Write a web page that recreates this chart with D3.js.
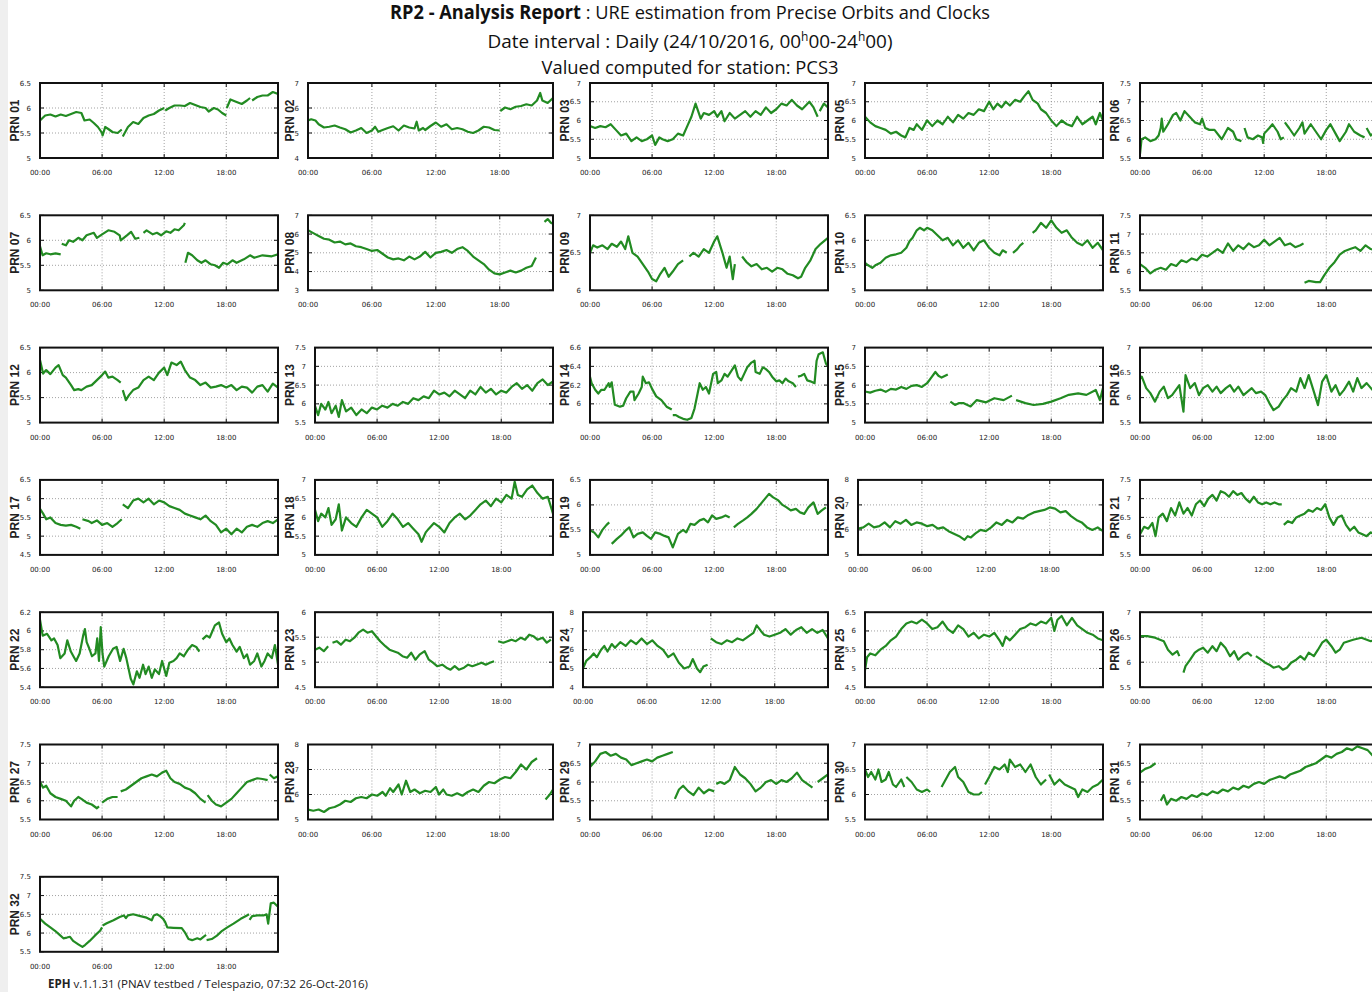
<!DOCTYPE html>
<html>
<head>
<meta charset="utf-8">
<title>RP2 - URE estimation from Precise Orbits and Clocks</title>
<script src="https://cdn.jsdelivr.net/npm/d3@7"></script>
<style>
body { margin: 0; background: #ffffff; overflow: hidden; }
svg { display: block; }
.title { font-family: "Open Sans", "Noto Sans", sans-serif; font-size: 19px; fill: #111; }
.tick-label { font-family: "DejaVu Sans", sans-serif; font-size: 7px; fill: #222; }
.prn-label { font-family: "Liberation Sans", Arial, sans-serif; font-size: 12px; font-weight: bold; fill: #222; }
.grid { stroke: #8a8a8a; stroke-width: 0.8; stroke-dasharray: 1,2; }
.frame { fill: none; stroke: #111; stroke-width: 2; }
.series { fill: none; stroke: #228b22; stroke-width: 2.2; stroke-linejoin: round; }
.footer { font-family: "Open Sans", "Noto Sans", sans-serif; font-size: 11.5px; fill: #222; }
</style>
</head>
<body>
<svg width="1372" height="992"></svg>
<script>
// ---- texts ----
var titleBold = "RP2 - Analysis Report";
var titleRest = " : URE estimation from Precise Orbits and Clocks";
var dateParts = ["Date interval : Daily (24/10/2016, 00", "h", "00-24", "h", "00)"];
var stationLine = "Valued computed for station: PCS3";
var footerBold = "EPH";
var footerRest = " v.1.1.31 (PNAV testbed / Telespazio, 07:32 26-Oct-2016)";

// ---- x axis (hours of day) ----
var hourDomain = [0, 23];
var hourTicks = [0, 6, 12, 18];
var hourLabels = ["00:00", "06:00", "12:00", "18:00"];

// ---- panels ----
var prnNames = ["PRN 01","PRN 02","PRN 03","PRN 05","PRN 06",
                "PRN 07","PRN 08","PRN 09","PRN 10","PRN 11",
                "PRN 12","PRN 13","PRN 14","PRN 15","PRN 16",
                "PRN 17","PRN 18","PRN 19","PRN 20","PRN 21",
                "PRN 22","PRN 23","PRN 24","PRN 25","PRN 26",
                "PRN 27","PRN 28","PRN 29","PRN 30","PRN 31",
                "PRN 32"];

var yTickSets = [
  [5,5.5,6,6.5],[4,5,6,7],[5,5.5,6,6.5,7],[5,5.5,6,6.5,7],[5.5,6,6.5,7,7.5],
  [5,5.5,6,6.5],[3,4,5,6,7],[6,6.5,7],[5,5.5,6,6.5],[5.5,6,6.5,7,7.5],
  [5,5.5,6,6.5],[5.5,6,6.5,7,7.5],[6,6.2,6.4,6.6],[5,5.5,6,6.5,7],[5.5,6,6.5,7],
  [4.5,5,5.5,6,6.5],[5,5.5,6,6.5,7],[5,5.5,6,6.5],[5,6,7,8],[5.5,6,6.5,7,7.5],
  [5.4,5.6,5.8,6,6.2],[4.5,5,5.5,6],[4,5,6,7,8],[4.5,5,5.5,6,6.5],[5.5,6,6.5,7],
  [5.5,6,6.5,7,7.5],[5,6,7,8],[5,5.5,6,6.5,7],[5.5,6,6.5,7],[5,5.5,6,6.5,7],
  [5.5,6,6.5,7,7.5]
];

var yDomains = [
  [5,6.5],[4,7],[5,7],[5,7],[5.5,7.5],
  [5,6.5],[3,7],[6,7],[5,6.5],[5.5,7.5],
  [5,6.5],[5.5,7.5],[5.8,6.6],[5,7],[5.5,7],
  [4.5,6.5],[5,7],[5,6.5],[5,8],[5.5,7.5],
  [5.4,6.2],[4.5,6],[4,8],[4.5,6.5],[5.5,7],
  [5.5,7.5],[5,8],[5,7],[5.5,7],[5,7],
  [5.5,7.5]
];

// ---- series: [hour, URE] pairs, null = data gap ----
var prn01 = [[0,5.75],[0.5,5.85],[1,5.87],[1.5,5.83],[2,5.87],[2.5,5.84],[3,5.88],[3.5,5.92],[4,5.9],[4.3,5.75],[4.8,5.77],[5.2,5.7],[5.6,5.62],[6,5.5],[6.05,5.45],[6.3,5.62],[6.6,5.58],[7,5.52],[7.5,5.5],[7.9,5.57],null,[8,5.43],[8.5,5.62],[9,5.72],[9.5,5.68],[10,5.8],[10.5,5.85],[11,5.88],[11.5,5.95],[12,6.0],null,[12.1,5.95],[12.5,6.0],[13,6.05],[13.5,6.05],[14,6.04],[14.5,6.1],[15,6.06],[15.5,6.02],[16,6.0],[16.3,5.93],[16.8,6.0],[17.2,5.97],[17.6,5.9],[18,5.85],null,[18.05,6.0],[18.4,6.17],[19,6.12],[19.5,6.08],[20,6.15],[20.3,6.2],null,[20.5,6.15],[21,6.22],[21.5,6.25],[22,6.25],[22.5,6.32],[23,6.28]];
var prn02 = [[0,5.5],[0.3,5.55],[0.7,5.5],[1,5.35],[1.5,5.22],[2,5.25],[2.5,5.3],[3,5.22],[3.5,5.15],[4,5.02],[4.5,5.1],[5,5.2],[5.5,5.0],[6,5.1],[6.3,5.25],[6.6,5.05],[7,5.12],[7.5,5.2],[8,5.27],[8.5,5.1],[9,5.3],[9.5,5.22],[10,5.18],[10.2,5.45],[10.4,5.1],[10.8,5.2],[11,5.12],[11.5,5.28],[12,5.42],[12.5,5.25],[13,5.35],[13.5,5.15],[14,5.2],[14.5,5.15],[15,5.05],[15.5,5.0],[16,5.1],[16.5,5.25],[17,5.22],[17.5,5.12],[18,5.1],null,[18.05,5.88],[18.5,6.02],[19,5.95],[19.5,6.05],[20,6.08],[20.5,6.15],[21,6.1],[21.5,6.3],[21.8,6.6],[22,6.3],[22.5,6.2],[23,6.4]];
var prn03 = [[0,5.85],[0.5,5.8],[1,5.85],[1.5,5.82],[2,5.9],[2.5,5.75],[3,5.6],[3.5,5.65],[4,5.45],[4.5,5.55],[5,5.45],[5.5,5.5],[6,5.6],[6.3,5.35],[6.7,5.55],[7,5.5],[7.5,5.45],[8,5.5],[8.5,5.65],[9,5.6],[9.4,5.85],[9.8,6.1],[10.2,6.45],[10.7,6.05],[11,6.2],[11.5,6.15],[12,6.25],[12.3,6.1],[12.7,6.25],[13,5.98],[13.5,6.2],[14,6.05],[14.5,6.15],[15,6.25],[15.5,6.1],[16,6.25],[16.5,6.15],[17,6.35],[17.5,6.2],[18,6.3],[18.5,6.45],[19,6.4],[19.5,6.55],[20,6.4],[20.5,6.3],[21.2,6.5],[21.6,6.35],[22,6.1],null,[22.2,6.25],[22.6,6.45],[23,6.35]];
var prn05 = [[0,6.1],[0.5,5.95],[1,5.85],[1.5,5.8],[2,5.75],[2.5,5.65],[3,5.7],[3.5,5.6],[3.9,5.55],[4.3,5.8],[4.7,5.75],[5,5.9],[5.5,5.75],[6,6.0],[6.5,5.85],[7,6.0],[7.5,5.9],[8,6.1],[8.5,5.95],[9,6.15],[9.5,6.05],[10,6.2],[10.5,6.15],[11,6.3],[11.5,6.25],[12,6.5],[12.4,6.3],[12.8,6.45],[13.2,6.35],[13.6,6.5],[14,6.4],[14.5,6.55],[15,6.5],[15.4,6.65],[15.8,6.78],[16.2,6.55],[16.7,6.45],[17,6.3],[17.5,6.2],[18,6.0],[18.5,5.85],[19,6.0],[19.5,5.9],[20,5.85],[20.5,6.1],[21,5.9],[21.5,6.0],[22,6.1],[22.3,5.9],[22.7,6.2],[23,6.0]];
var prn06 = [[0,5.6],[0.15,6.0],[0.5,6.05],[1,5.95],[1.5,6.0],[1.8,6.1],[2.0,6.3],[2.1,6.55],[2.25,6.2],[2.7,6.4],[3.2,6.65],[3.5,6.7],[3.9,6.5],[4.3,6.75],[4.8,6.6],[5.3,6.45],[5.8,6.4],[6.0,6.55],[6.3,6.3],[6.7,6.25],[7.2,6.25],[7.9,6.0],[8.5,6.3],[9,6.2],[9.3,6.0],[9.8,5.95],null,[10.1,6.3],[10.4,6.05],[10.9,6.0],[11.4,6.1],[11.8,6.05],[11.9,5.9],[12,6.15],[12.5,6.3],[12.8,6.4],[13.3,6.2],[13.6,6.0],[13.9,6.05],null,[14.0,6.45],[14.4,6.3],[14.9,6.1],[15.4,6.3],[15.7,6.45],[15.9,6.15],[16.5,6.4],[17,6.2],[17.5,6.0],[18,6.25],[18.4,6.4],[18.9,6.15],[19.3,5.95],[19.9,6.2],[20.2,6.4],[20.7,6.2],[21.3,6.1],[21.7,6.05],null,[21.9,6.3],[22.3,6.1],[22.7,6.2],[23,6.35]];
var prn07 = [[0,5.88],[0.25,5.7],[0.6,5.74],[1,5.72],[1.5,5.74],[2,5.72],null,[2.1,5.93],[2.5,5.9],[2.8,6.0],[3.2,5.97],[3.7,6.05],[4.1,6.0],[4.5,6.1],[5.2,6.15],[5.5,6.05],[6,6.12],[6.6,6.2],[7.2,6.17],[7.7,6.1],[7.8,6.0],[8.4,6.1],[8.8,6.17],[9.2,6.03],[9.6,6.05],null,[10,6.15],[10.3,6.2],[10.9,6.12],[11.3,6.15],[11.7,6.1],[12.2,6.18],[12.6,6.15],[13,6.22],[13.4,6.2],[13.9,6.3],[14,6.35],null,[14.05,5.55],[14.3,5.75],[14.7,5.7],[15.2,5.6],[15.6,5.55],[16,5.6],[16.5,5.52],[16.9,5.5],[17.3,5.45],[17.7,5.55],[18.1,5.52],[18.6,5.6],[19,5.55],[19.7,5.62],[20.3,5.7],[20.7,5.65],[21.5,5.7],[22.4,5.68],[23,5.72]];
var prn08 = [[0,6.2],[0.5,6.05],[1,5.9],[1.5,5.75],[2,5.7],[2.5,5.55],[3,5.6],[3.5,5.45],[4,5.5],[4.5,5.35],[5,5.3],[5.5,5.2],[6,5.1],[6.5,5.15],[7,4.95],[7.5,4.75],[8,4.65],[8.5,4.7],[9,4.6],[9.5,4.8],[10,4.65],[10.5,4.8],[11,5.05],[11.5,4.75],[12,5.0],[12.5,5.05],[13,5.15],[13.5,5.0],[14,5.2],[14.5,5.3],[15,5.1],[15.5,4.8],[16,4.6],[16.5,4.4],[17,4.1],[17.5,3.9],[18,3.85],[18.5,3.95],[19,4.05],[19.5,3.95],[20,4.05],[20.5,4.2],[21,4.3],[21.4,4.75],null,[22.2,6.65],[22.5,6.8],[22.8,6.6],[23,6.55]];
var prn09 = [[0,6.5],[0.3,6.6],[0.7,6.57],[1.2,6.6],[1.7,6.55],[2.1,6.62],[2.6,6.58],[3.0,6.65],[3.4,6.55],[3.7,6.72],[4.1,6.5],[4.6,6.45],[5.1,6.35],[5.6,6.25],[6.0,6.15],[6.4,6.12],[6.8,6.22],[7.2,6.3],[7.6,6.18],[8.0,6.25],[8.5,6.35],[9.0,6.4],null,[9.6,6.45],[10.0,6.5],[10.5,6.45],[11.0,6.55],[11.5,6.5],[12.0,6.65],[12.3,6.72],[12.8,6.5],[13.2,6.3],[13.5,6.45],[13.8,6.15],[14.0,6.35],null,[14.7,6.45],[15.1,6.38],[15.6,6.32],[16.1,6.35],[16.6,6.28],[17.1,6.3],[17.6,6.25],[18.1,6.3],[18.6,6.28],[19.1,6.22],[19.6,6.2],[20.1,6.16],[20.4,6.18],[20.8,6.3],[21.3,6.4],[21.8,6.55],[22.3,6.62],[23,6.7]];
var prn10 = [[0,5.55],[0.3,5.5],[0.7,5.45],[1,5.5],[1.5,5.55],[2,5.65],[2.5,5.7],[3,5.72],[3.5,5.75],[4,5.85],[4.3,5.98],[4.6,6.05],[5,6.2],[5.3,6.25],[5.7,6.2],[6,6.25],[6.5,6.2],[7,6.1],[7.5,6.0],[8,6.05],[8.5,5.9],[9,6.0],[9.5,5.85],[10,5.95],[10.5,5.8],[11,5.95],[11.5,6.0],[12,5.85],[12.5,5.75],[13,5.7],[13.3,5.8],[13.7,5.75],null,[14.3,5.75],[14.7,5.82],[15,5.9],[15.3,5.95],null,[16.2,6.15],[16.5,6.2],[17,6.35],[17.5,6.25],[18,6.4],[18.5,6.25],[19,6.15],[19.5,6.2],[20,6.05],[20.5,5.95],[21,5.9],[21.5,6.0],[22,5.85],[22.5,5.95],[23,5.8]];
var prn11 = [[0,6.2],[0.5,6.1],[1,5.95],[1.5,6.05],[2,6.1],[2.5,6.05],[3,6.2],[3.5,6.15],[4,6.3],[4.5,6.25],[5,6.35],[5.5,6.3],[6,6.45],[6.5,6.4],[7,6.5],[7.5,6.6],[8,6.5],[8.5,6.75],[9,6.55],[9.5,6.7],[10,6.6],[10.5,6.75],[11,6.65],[11.5,6.7],[12,6.85],[12.5,6.7],[13,6.8],[13.5,6.9],[14,6.7],[14.5,6.75],[15,6.65],[15.5,6.7],[15.8,6.75],null,[15.9,5.7],[16.3,5.75],[17,5.72],[17.4,5.72],[17.8,5.9],[18.3,6.1],[18.8,6.25],[19.3,6.45],[19.8,6.55],[20.3,6.6],[20.8,6.65],[21.3,6.55],[21.8,6.7],[22.3,6.6],[23,6.55]];
var prn12 = [[0,6.25],[0.3,5.98],[0.6,6.05],[1,5.97],[1.5,6.1],[1.8,6.15],[2.2,5.95],[2.5,5.9],[3,5.75],[3.3,5.65],[3.7,5.67],[4,5.65],[4.5,5.72],[5,5.75],[5.5,5.85],[6,5.95],[6.3,6.02],[6.6,5.9],[7,5.92],[7.5,5.85],[7.8,5.8],null,[8,5.65],[8.3,5.45],[8.6,5.55],[9,5.65],[9.5,5.7],[10,5.85],[10.5,5.92],[11,5.85],[11.5,6.0],[12,6.1],[12.3,5.95],[12.7,6.2],[13.2,6.15],[13.6,6.22],[14,6.05],[14.5,5.9],[15,5.85],[15.5,5.75],[16,5.8],[16.5,5.7],[17,5.72],[17.5,5.75],[18,5.7],[18.5,5.75],[19,5.65],[19.5,5.72],[20,5.7],[20.5,5.6],[21,5.72],[21.5,5.75],[22,5.62],[22.5,5.78],[23,5.7]];
var prn13 = [[0,5.95],[0.3,5.7],[0.6,6.0],[1,5.85],[1.3,6.05],[1.6,5.75],[2,5.95],[2.3,5.65],[2.6,6.1],[3,5.8],[3.5,5.9],[4,5.7],[4.5,5.85],[5,5.75],[5.5,5.9],[6,5.85],[6.5,5.95],[7,5.9],[7.5,6.0],[8,5.95],[8.5,6.05],[9,6.0],[9.5,6.15],[10,6.1],[10.5,6.2],[11,6.15],[11.5,6.35],[12,6.25],[12.5,6.3],[13,6.2],[13.5,6.35],[14,6.25],[14.5,6.15],[15,6.35],[15.5,6.25],[16,6.45],[16.5,6.3],[17,6.4],[17.5,6.25],[18,6.35],[18.5,6.3],[19,6.45],[19.5,6.55],[20,6.4],[20.5,6.5],[21,6.35],[21.5,6.55],[22,6.65],[22.5,6.5],[23,6.6]];
var prn14 = [[0,6.29],[0.16,6.22],[0.5,6.15],[0.8,6.11],[1.1,6.15],[1.4,6.15],[1.8,6.22],[1.9,6.18],[2.1,6.23],[2.4,5.99],[2.9,5.97],[3.2,5.98],[3.5,6.06],[3.9,6.13],[4.2,6.13],[4.3,6.04],[4.7,6.11],[5.0,6.18],[5.1,6.29],[5.4,6.22],[5.7,6.23],[6.0,6.16],[6.4,6.08],[6.9,6.04],[7.4,5.97],[7.9,5.94],null,[8.0,5.88],[8.3,5.88],[8.6,5.86],[9.0,5.84],[9.4,5.83],[9.8,5.85],[10.1,5.95],[10.4,6.11],[10.6,6.22],[10.9,6.15],[11.2,6.18],[11.5,6.11],[11.9,6.32],[12.2,6.34],[12.35,6.22],[12.7,6.25],[13,6.32],[13.3,6.29],[13.6,6.34],[14,6.41],[14.3,6.29],[14.6,6.25],[14.9,6.32],[15.2,6.39],[15.6,6.44],[15.9,6.46],[16,6.34],[16.4,6.32],[16.7,6.39],[17,6.37],[17.3,6.34],[17.6,6.29],[18,6.24],[18.3,6.25],[18.6,6.22],[18.9,6.27],[19.2,6.24],[19.6,6.22],[19.9,6.18],null,[20.1,6.29],[20.4,6.3],[20.7,6.32],[21,6.25],[21.3,6.24],[21.7,6.22],[21.9,6.46],[22.1,6.53],[22.5,6.55],[22.8,6.43],[23,6.4]];
var prn15 = [[0,5.83],[0.5,5.8],[1,5.85],[1.5,5.88],[2,5.82],[2.5,5.9],[3,5.88],[3.5,5.95],[4,5.9],[4.5,5.98],[5,6.0],[5.5,5.95],[6,6.05],[6.4,6.2],[6.8,6.35],[7.1,6.25],[7.4,6.2],[8,6.28],null,[8.25,5.56],[8.7,5.47],[9.1,5.52],[9.5,5.52],[10.2,5.43],[10.8,5.6],[11.7,5.54],[12.5,5.65],[13.4,5.6],[14.2,5.72],null,[14.6,5.6],[15.5,5.52],[16.3,5.47],[17.2,5.5],[18,5.56],[18.9,5.65],[19.7,5.74],[20.6,5.78],[21.4,5.74],[22.3,5.87],[22.7,5.6],[23,5.92]];
var prn16 = [[0,6.39],[0.17,6.42],[0.6,6.19],[1.0,6.09],[1.45,5.92],[1.9,6.12],[2.3,6.22],[2.7,5.99],[3.1,6.05],[3.8,6.25],[4.2,5.72],[4.4,6.45],[4.85,6.19],[5.3,6.29],[5.7,6.05],[6.1,6.19],[6.55,6.25],[7.0,6.12],[7.4,6.22],[7.8,6.09],[8.3,6.19],[8.7,6.25],[9.1,6.12],[9.5,6.22],[10,6.05],[10.4,6.12],[10.8,6.19],[11.2,6.09],[11.7,6.12],[12.1,6.05],[12.5,5.89],[12.9,5.75],[13.4,5.82],[13.8,5.95],[14.2,6.05],[14.6,6.19],[15.1,6.12],[15.5,6.39],[15.9,6.19],[16.3,6.45],[16.8,6.12],[17.2,5.85],[17.6,6.32],[18.0,6.45],[18.5,6.12],[18.9,6.25],[19.3,6.05],[19.7,6.15],[20.2,6.32],[20.6,6.12],[21,6.39],[21.4,6.19],[21.9,6.29],[22.6,6.12],[23,6.2]];
var prn17 = [[0,5.73],[0.3,5.6],[0.6,5.45],[1,5.5],[1.5,5.35],[2,5.3],[2.5,5.28],[3,5.3],[3.5,5.25],[3.9,5.2],null,[4.1,5.45],[4.7,5.4],[5,5.35],[5.5,5.42],[6,5.3],[6.5,5.35],[7,5.25],[7.5,5.35],[7.9,5.45],null,[8.0,5.85],[8.5,5.75],[9,5.95],[9.5,6.0],[10,5.9],[10.5,6.0],[11,5.85],[11.5,5.95],[12,5.9],[12.5,5.8],[13,5.75],[13.5,5.7],[14,5.6],[14.5,5.55],[15,5.5],[15.5,5.45],[16,5.55],[16.5,5.4],[17,5.3],[17.5,5.1],[18,5.2],[18.5,5.05],[19,5.2],[19.5,5.1],[20,5.25],[20.5,5.3],[21,5.25],[21.5,5.35],[22,5.4],[22.5,5.35],[23,5.45]];
var prn18 = [[0,6.2],[0.3,5.9],[0.6,6.1],[1,6.0],[1.3,6.25],[1.6,5.8],[2,5.95],[2.3,6.35],[2.6,5.65],[3,6.0],[3.5,5.85],[4,5.75],[4.5,6.0],[5,6.2],[5.5,6.1],[6,6.0],[6.5,5.75],[7,5.9],[7.5,6.1],[8,5.95],[8.5,5.75],[9,5.85],[9.5,5.7],[10,5.55],[10.3,5.35],[10.7,5.6],[11,5.7],[11.5,5.85],[12,5.75],[12.5,5.6],[13,5.85],[13.5,6.0],[14,6.1],[14.5,5.95],[15,6.05],[15.5,6.2],[16,6.35],[16.5,6.45],[17,6.3],[17.5,6.5],[18,6.4],[18.5,6.6],[19,6.5],[19.3,6.95],[19.6,6.6],[20,6.55],[20.5,6.75],[21,6.85],[21.5,6.65],[22,6.5],[22.5,6.55],[23,6.1]];
var prn19 = [[0,5.49],[0.4,5.45],[0.8,5.35],[1.2,5.5],[1.6,5.6],[1.86,5.65],null,[2.1,5.22],[2.6,5.32],[3.0,5.39],[3.4,5.48],[3.8,5.55],[4.2,5.35],[4.6,5.42],[5.1,5.45],[5.5,5.38],[5.9,5.32],[6.3,5.45],[6.8,5.42],[7.2,5.38],[7.6,5.35],[8.0,5.15],[8.5,5.42],[9.0,5.5],[9.3,5.45],[9.7,5.62],[10.1,5.6],[10.6,5.69],[11.0,5.72],[11.4,5.65],[11.8,5.79],[12.2,5.72],[12.7,5.75],[13.1,5.79],[13.5,5.75],null,[13.9,5.55],[14.3,5.62],[14.8,5.69],[15.2,5.75],[15.6,5.82],[16.1,5.92],[16.5,6.02],[16.9,6.12],[17.3,6.22],[17.7,6.15],[18.2,6.09],[18.6,6.0],[19.0,5.95],[19.4,5.89],[19.9,5.92],[20.3,5.85],[20.7,5.82],[21.1,5.95],[21.6,6.05],[22.0,5.82],[22.4,5.89],[22.8,5.95]];
var prn20 = [[0,6.05],[0.5,6.1],[1,6.25],[1.5,6.1],[2,6.15],[2.5,6.3],[3,6.1],[3.5,6.35],[4,6.25],[4.5,6.4],[5,6.2],[5.5,6.3],[6,6.25],[6.5,6.15],[7,6.2],[7.5,6.05],[8,6.1],[8.5,5.95],[9,5.85],[9.5,5.75],[10,5.6],[10.3,5.75],[10.6,5.7],[11,5.85],[11.5,6.0],[12,5.95],[12.5,6.1],[13,6.3],[13.5,6.2],[14,6.4],[14.5,6.3],[15,6.5],[15.5,6.45],[16,6.6],[16.5,6.7],[17,6.75],[17.5,6.8],[18,6.9],[18.5,6.85],[19,6.7],[19.5,6.75],[20,6.55],[20.5,6.4],[21,6.3],[21.5,6.1],[22,6.0],[22.5,6.1],[23,5.95]];
var prn21 = [[0,6.05],[0.4,6.25],[0.8,6.2],[1.2,6.35],[1.5,6.0],[1.8,6.5],[2.2,6.6],[2.6,6.4],[3.0,6.75],[3.4,6.55],[3.8,6.9],[4.2,6.6],[4.6,6.75],[5.0,6.55],[5.4,6.85],[5.8,6.95],[6.2,6.8],[6.6,7.0],[7.0,7.1],[7.4,6.95],[7.8,7.2],[8.2,7.15],[8.6,7.05],[9.0,7.2],[9.4,7.1],[9.8,7.15],[10.2,7.0],[10.6,6.9],[11.0,7.05],[11.4,6.9],[11.8,6.85],[12.2,6.9],[12.6,6.85],[13.0,6.9],[13.4,6.85],[13.7,6.85],null,[13.9,6.3],[14.3,6.4],[14.7,6.35],[15.1,6.5],[15.5,6.55],[15.9,6.6],[16.3,6.7],[16.7,6.65],[17.1,6.75],[17.5,6.7],[17.9,6.85],[18.3,6.5],[18.7,6.3],[19.1,6.5],[19.5,6.55],[19.9,6.3],[20.3,6.15],[20.7,6.25],[21.1,6.1],[21.5,6.05],[21.9,6.0],[22.3,6.1],[23,6.0]];
var prn22 = [[0,6.12],[0.26,5.95],[0.68,5.97],[1.1,5.9],[1.36,5.92],[1.7,5.85],[1.96,5.71],[2.38,5.76],[2.64,5.9],[2.98,5.78],[3.23,5.73],[3.49,5.68],[3.83,5.76],[4.17,5.95],[4.34,6.02],[4.51,5.88],[4.77,5.81],[5.02,5.73],[5.36,5.76],[5.53,5.92],[5.7,5.68],[5.87,6.04],[6.04,5.76],[6.21,5.62],[6.64,5.73],[7.06,5.81],[7.4,5.83],[7.74,5.68],[8.08,5.81],[8.34,5.71],[8.77,5.49],[9.02,5.43],[9.36,5.57],[9.62,5.5],[9.96,5.64],[10.2,5.54],[10.5,5.62],[10.8,5.5],[11.1,5.59],[11.5,5.54],[11.8,5.68],[12.2,5.52],[12.5,5.66],[12.9,5.68],[13.2,5.71],[13.5,5.76],[13.9,5.73],[14.3,5.8],[14.7,5.85],[15.1,5.83],[15.4,5.78],null,[15.7,5.91],[16.1,5.95],[16.4,5.93],[16.9,6.06],[17.3,6.09],[17.6,5.97],[18,5.88],[18.3,5.92],[18.6,5.85],[19,5.78],[19.3,5.83],[19.7,5.71],[20,5.75],[20.3,5.64],[20.7,5.68],[21,5.76],[21.4,5.62],[21.7,5.68],[22,5.76],[22.4,5.71],[22.7,5.85],[23,5.64]];
var prn23 = [[0,5.25],[0.42,5.29],[0.85,5.22],[1.27,5.32],null,[1.69,5.39],[2.1,5.42],[2.5,5.35],[2.96,5.45],[3.38,5.42],[3.8,5.49],[4.2,5.59],[4.65,5.65],[5.07,5.59],[5.5,5.62],[5.9,5.52],[6.3,5.42],[6.8,5.32],[7.2,5.25],[7.6,5.22],[8.0,5.19],[8.45,5.12],[8.9,5.09],[9.3,5.19],[9.7,5.05],[10.1,5.15],[10.6,5.22],[11,5.05],[11.4,4.99],[11.8,4.92],[12.3,4.95],[12.7,4.89],[13.1,4.85],[13.5,4.92],[13.9,4.85],[14.4,4.89],[14.8,4.95],[15.2,4.92],[15.6,4.95],[16.1,4.99],[16.5,4.95],[16.9,4.99],[17.3,5.02],null,[17.7,5.42],[18.2,5.39],[18.6,5.42],[19,5.45],[19.4,5.42],[19.9,5.49],[20.3,5.45],[20.7,5.55],[21.1,5.52],[21.5,5.45],[22,5.49],[22.4,5.39],[22.8,5.45]];
var prn24 = [[0,5.0],[0.3,5.4],[0.7,5.6],[1,5.8],[1.3,5.6],[1.7,6.0],[2,6.2],[2.3,5.9],[2.7,6.3],[3,6.1],[3.5,6.4],[4,6.2],[4.5,6.5],[5,6.3],[5.5,6.6],[6,6.3],[6.5,6.5],[7,6.2],[7.5,6.0],[8,5.6],[8.5,5.8],[9,5.3],[9.5,5.0],[10,5.1],[10.3,5.5],[10.7,5.0],[11,4.8],[11.3,5.1],[11.7,5.2],null,[12,6.6],[12.5,6.4],[13,6.3],[13.5,6.5],[14,6.4],[14.5,6.6],[15,6.5],[15.5,6.7],[16,6.9],[16.3,7.3],[16.7,7.0],[17,6.8],[17.5,6.7],[18,6.8],[18.5,6.9],[19,7.1],[19.5,6.8],[20,7.05],[20.5,7.2],[21,6.9],[21.5,7.1],[22,6.9],[22.5,7.05],[23,6.6]];
var prn25 = [[0,4.95],[0.2,5.3],[0.5,5.4],[1,5.35],[1.5,5.5],[2,5.6],[2.5,5.75],[3,5.85],[3.5,6.05],[4,6.2],[4.5,6.25],[5,6.2],[5.5,6.3],[6,6.2],[6.5,6.05],[7,6.1],[7.5,6.25],[8,6.05],[8.5,5.95],[9,6.15],[9.5,6.05],[10,5.85],[10.5,5.95],[11,5.8],[11.5,5.9],[12,5.85],[12.5,5.95],[13,5.75],[13.3,5.6],[13.6,5.85],[14,5.75],[14.5,5.9],[15,6.05],[15.5,6.1],[16,6.2],[16.5,6.15],[17,6.25],[17.5,6.2],[18,6.35],[18.3,6.0],[18.6,6.3],[19,6.4],[19.5,6.15],[20,6.35],[20.5,6.15],[21,6.05],[21.5,5.95],[22,5.9],[22.5,5.8],[23,5.75]];
var prn26 = [[0,6.52],[0.7,6.52],[1.45,6.49],[2.3,6.42],[2.7,6.25],[3.15,6.15],[3.6,6.22],[3.8,6.12],null,[4.2,5.79],[4.4,5.92],[4.85,6.05],[5.3,6.19],[5.7,6.25],[6.1,6.29],[6.55,6.19],[7.0,6.32],[7.4,6.22],[7.8,6.39],[8.25,6.29],[8.7,6.12],[9.1,6.22],[9.5,6.05],[10,6.15],[10.4,6.19],[10.8,6.12],null,[11.2,6.12],[11.7,6.05],[12.1,5.99],[12.5,5.95],[12.9,5.89],[13.4,5.92],[13.8,5.85],[14.2,5.89],[14.6,5.99],[15.1,6.05],[15.5,6.12],[15.9,6.05],[16.3,6.19],[16.8,6.12],[17.2,6.25],[17.6,6.39],[18,6.45],[18.5,6.32],[18.9,6.19],[19.3,6.25],[19.7,6.39],[20.6,6.45],[21.4,6.49],[22.3,6.42],[23,6.45]];
var prn27 = [[0,6.5],[0.3,6.35],[0.6,6.4],[1,6.2],[1.5,6.1],[2,6.05],[2.5,6.0],[3,5.85],[3.3,6.0],[3.7,6.1],[4,6.05],[4.5,5.95],[5,5.9],[5.5,5.8],[5.7,5.85],null,[6,5.95],[6.5,6.05],[7,6.1],[7.5,6.1],null,[7.8,6.25],[8.3,6.3],[8.8,6.4],[9.3,6.5],[9.8,6.6],[10.3,6.65],[10.8,6.7],[11.3,6.65],[11.8,6.75],[12.2,6.8],[12.6,6.6],[13,6.5],[13.5,6.45],[14,6.35],[14.5,6.3],[15,6.2],[15.5,6.05],[16,5.95],null,[16.2,6.15],[16.6,6.0],[17,5.9],[17.5,5.85],[18,5.95],[18.5,6.05],[19,6.2],[19.5,6.35],[20,6.5],[20.5,6.55],[21,6.6],[21.5,6.58],[22,6.55],null,[22.2,6.7],[22.6,6.6],[23,6.65]];
var prn28 = [[0,5.4],[0.5,5.35],[1,5.4],[1.5,5.3],[2,5.45],[2.5,5.5],[3,5.6],[3.5,5.75],[4,5.7],[4.5,5.85],[5,5.9],[5.5,5.85],[6,6.0],[6.5,5.95],[7,6.1],[7.3,5.95],[7.7,6.25],[8,6.1],[8.5,6.4],[8.8,6.0],[9.2,6.55],[9.6,6.1],[10,6.2],[10.5,6.05],[11,6.15],[11.5,6.1],[12,6.3],[12.3,6.0],[12.7,6.2],[13,6.0],[13.5,5.95],[14,6.05],[14.5,5.95],[15,6.1],[15.5,6.2],[16,6.1],[16.5,6.35],[17,6.5],[17.5,6.45],[18,6.6],[18.5,6.7],[19,6.65],[19.5,6.9],[20,7.2],[20.5,7.0],[21,7.3],[21.5,7.45],null,[22.3,5.8],[22.7,6.0],[23,6.2]];
var prn29 = [[0,6.4],[0.5,6.55],[1,6.75],[1.5,6.8],[2,6.7],[2.5,6.75],[3,6.65],[3.5,6.6],[4,6.45],[4.5,6.5],[5,6.55],[5.5,6.6],[6,6.55],[6.5,6.65],[7,6.7],[7.5,6.75],[8,6.8],null,[8.2,5.55],[8.6,5.8],[9,5.9],[9.5,5.75],[10,5.65],[10.5,5.85],[11,5.7],[11.5,5.8],[12,5.75],null,[12.2,5.95],[12.6,6.0],[13,5.95],[13.5,6.05],[14,6.4],[14.5,6.2],[15,6.1],[15.5,5.95],[16,5.75],[16.5,5.85],[17,6.0],[17.5,6.05],[18,5.95],[18.5,6.05],[19,6.0],[19.5,6.1],[20,6.25],[20.5,6.05],[21,5.95],[21.5,5.85],null,[22,6.0],[22.5,6.1],[23,6.2]];
var prn30 = [[0,6.5],[0.3,6.35],[0.6,6.45],[1,6.3],[1.3,6.5],[1.6,6.25],[2,6.3],[2.3,6.45],[2.7,6.2],[3,6.15],[3.5,6.3],[3.8,6.15],null,[4,6.35],[4.5,6.25],[5,6.1],[5.5,6.05],[6,6.1],[6.3,6.05],null,[7.4,6.15],[7.8,6.3],[8.2,6.45],[8.7,6.55],[9,6.35],[9.5,6.25],[10,6.05],[10.5,6.0],[11,6.0],[11.3,6.05],null,[11.6,6.2],[12,6.35],[12.5,6.55],[13,6.5],[13.5,6.6],[13.8,6.45],[14,6.7],[14.5,6.55],[15,6.6],[15.5,6.45],[16,6.6],[16.5,6.35],[17,6.2],[17.5,6.3],null,[17.8,6.4],[18.3,6.2],[18.8,6.3],[19.3,6.2],[19.8,6.15],[20.3,6.1],[20.6,5.95],[21,6.1],[21.5,6.05],[22,6.15],[22.5,6.2],[23,6.3]];
var prn31 = [[0,6.25],[0.5,6.35],[1,6.4],[1.5,6.5],null,[2,5.5],[2.3,5.65],[2.6,5.4],[3,5.55],[3.5,5.5],[4,5.6],[4.5,5.55],[5,5.65],[5.5,5.6],[6,5.7],[6.5,5.65],[7,5.75],[7.5,5.7],[8,5.8],[8.5,5.75],[9,5.85],[9.5,5.8],[10,5.9],[10.5,5.85],[11,5.95],[11.5,6.0],[12,5.95],[12.5,6.05],[13,6.1],[13.5,6.15],[14,6.1],[14.5,6.2],[15,6.25],[15.5,6.3],[16,6.4],[16.5,6.45],[17,6.5],[17.5,6.6],[18,6.7],[18.5,6.65],[19,6.75],[19.5,6.8],[20,6.9],[20.5,6.85],[21,6.95],[21.5,6.9],[22,6.85],[22.5,6.7],[23,6.9]];
var prn32 = [[0,6.38],[0.5,6.25],[1.0,6.15],[1.45,6.06],[1.9,5.95],[2.26,5.86],[2.6,5.88],[2.9,5.9],[3.2,5.79],[3.7,5.7],[4.1,5.63],[4.35,5.68],[4.8,5.79],[5.3,5.93],[5.8,6.06],[6.0,6.15],null,[6.05,6.2],[6.45,6.26],[7.1,6.34],[7.7,6.43],[8.1,6.47],[8.3,6.4],[8.5,6.47],[9.0,6.5],[9.7,6.45],[10.3,6.41],[10.8,6.34],[11,6.47],[11.3,6.5],[11.6,6.45],[11.9,6.38],[12.1,6.29],[12.3,6.15],[12.9,6.14],[13.7,6.13],[14.0,6.02],[14.35,5.84],[14.7,5.81],[15.2,5.86],[15.5,5.83],[15.8,5.9],[16.05,5.95],null,[16.1,5.81],[16.6,5.84],[17.1,5.93],[17.6,6.06],[18.1,6.15],[18.7,6.25],[19.4,6.38],[20.0,6.47],[20.2,6.5],null,[20.25,6.35],[20.5,6.45],[21.0,6.47],[21.6,6.47],[21.9,6.5],[22.05,6.25],[22.3,6.79],[22.6,6.81],[23,6.7]];

var prnSeries = [prn01,prn02,prn03,prn05,prn06,prn07,prn08,prn09,prn10,prn11,
                 prn12,prn13,prn14,prn15,prn16,prn17,prn18,prn19,prn20,prn21,
                 prn22,prn23,prn24,prn25,prn26,prn27,prn28,prn29,prn30,prn31,prn32];

// ---- layout ----
var svg = d3.select("svg"),
    width = +svg.attr("width"),
    height = +svg.attr("height");

var cellW = 275, rowPitch = 132.3, firstTop = 83, plotH = 75;

svg.append("rect").attr("width", width).attr("height", height).attr("fill", "#fff");
svg.append("rect").attr("x", 0).attr("y", 0).attr("width", 8).attr("height", height).attr("fill", "#efefef");

// title block
var t1 = svg.append("text").attr("class", "title")
    .attr("x", 690).attr("y", 19).attr("text-anchor", "middle")
    .attr("textLength", 600).attr("lengthAdjust", "spacingAndGlyphs");
t1.append("tspan").attr("font-weight", "bold").text(titleBold);
t1.append("tspan").text(titleRest);

var t2 = svg.append("text").attr("class", "title")
    .attr("x", 690).attr("y", 48).attr("text-anchor", "middle")
    .attr("textLength", 405).attr("lengthAdjust", "spacingAndGlyphs");
dateParts.forEach(function(p, i) {
  var ts = t2.append("tspan").text(p);
  if (p === "h") ts.attr("font-size", "12px").attr("dy", -7);
  else if (i > 0) ts.attr("dy", 7);
});

svg.append("text").attr("class", "title")
    .attr("x", 690).attr("y", 74).attr("text-anchor", "middle")
    .attr("textLength", 297).attr("lengthAdjust", "spacingAndGlyphs")
    .text(stationLine);

var defs = svg.append("defs");

var line = d3.line()
    .defined(function(d) { return d !== null; })
    .x(function(d) { return d.x; })
    .y(function(d) { return d.y; });

prnNames.forEach(function(name, i) {
  var col = i % 5, row = Math.floor(i / 5);
  var cellX = col * cellW;
  var top = firstTop + row * rowPitch, bottom = top + plotH;
  var ticks = yTickSets[i];
  var narrow = ticks.every(function(v) { return Number.isInteger(v); });
  var left = cellX + (narrow ? 33 : 40), right = cellX + 278;

  var x = d3.scaleLinear().domain(hourDomain).range([left, right]);
  var y = d3.scaleLinear().domain(yDomains[i]).range([bottom, top]);

  var g = svg.append("g").attr("class", "panel");

  // grid
  g.selectAll(".gx").data(hourTicks.slice(1)).enter().append("line")
      .attr("class", "grid")
      .attr("x1", function(d) { return x(d); }).attr("x2", function(d) { return x(d); })
      .attr("y1", top).attr("y2", bottom);
  g.selectAll(".gy").data(ticks.filter(function(v) { return v > yDomains[i][0] && v < yDomains[i][1]; }))
    .enter().append("line")
      .attr("class", "grid")
      .attr("x1", left).attr("x2", right)
      .attr("y1", function(d) { return y(d); }).attr("y2", function(d) { return y(d); });

  // small inward tick marks
  g.selectAll(".tx").data(hourTicks.slice(1)).enter().append("path")
      .attr("d", function(d) { return "M" + x(d) + "," + bottom + "v-4M" + x(d) + "," + top + "v4"; })
      .attr("stroke", "#111").attr("stroke-width", 1);
  g.selectAll(".ty").data(ticks).enter().append("path")
      .attr("d", function(d) { return "M" + left + "," + y(d) + "h4M" + right + "," + y(d) + "h-4"; })
      .attr("stroke", "#111").attr("stroke-width", 1);

  // series, clipped to the plot
  var clipId = "clip-" + i;
  defs.append("clipPath").attr("id", clipId)
    .append("rect").attr("x", left).attr("y", top).attr("width", right - left).attr("height", plotH);

  var pts = prnSeries[i].map(function(d) { return d === null ? null : {x: x(d[0]), y: y(d[1])}; });
  g.append("path")
      .attr("class", "series")
      .attr("clip-path", "url(#" + clipId + ")")
      .attr("d", line(pts));

  // frame
  g.append("rect").attr("class", "frame")
      .attr("x", left).attr("y", top).attr("width", right - left).attr("height", plotH);

  // tick labels
  g.selectAll(".yl").data(ticks).enter().append("text")
      .attr("class", "tick-label")
      .attr("x", left - 9)
      .attr("y", function(d) { return y(d) + 2.5; })
      .attr("text-anchor", "end")
      .text(function(d) { return String(d); });
  g.selectAll(".xl").data(hourTicks).enter().append("text")
      .attr("class", "tick-label")
      .attr("x", function(d) { return x(d); })
      .attr("y", bottom + 17)
      .attr("text-anchor", "middle")
      .text(function(d, k) { return hourLabels[k]; });

  // PRN label
  g.append("text")
      .attr("class", "prn-label")
      .attr("transform", "translate(" + (cellX + 19) + "," + (top + plotH / 2) + ") rotate(-90)")
      .attr("text-anchor", "middle")
      .text(name);
});

// footer
var f = svg.append("text").attr("class", "footer")
    .attr("x", 48).attr("y", 988)
    .attr("textLength", 320).attr("lengthAdjust", "spacingAndGlyphs");
f.append("tspan").attr("font-weight", "bold").text(footerBold);
f.append("tspan").text(footerRest);
</script>
</body>
</html>
